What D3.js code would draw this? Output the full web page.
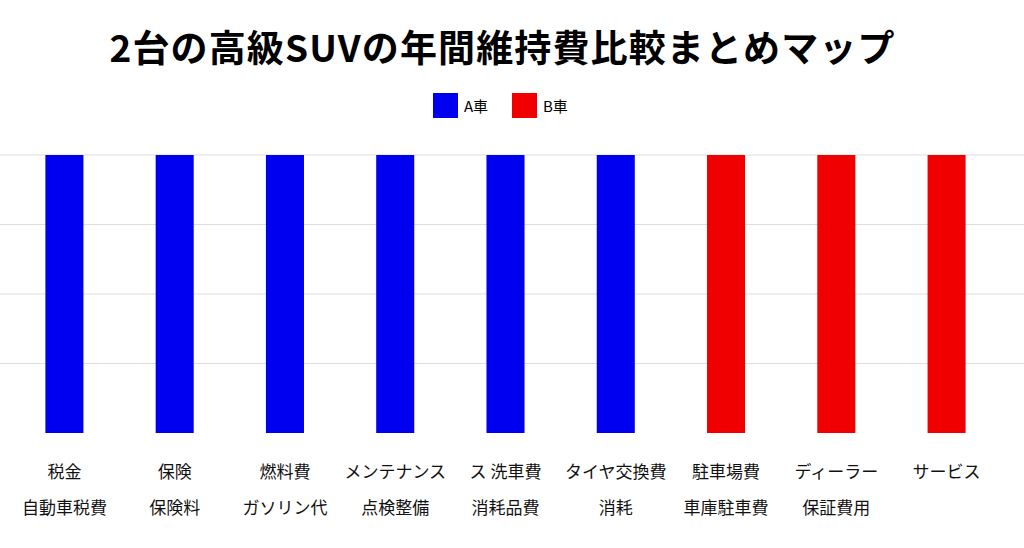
<!DOCTYPE html>
<html><head><meta charset="utf-8">
<script src="https://cdn.jsdelivr.net/npm/d3@7"></script>
<style>body{margin:0;background:#fff;font-family:"Noto Sans CJK JP","Noto Sans",sans-serif}</style>
</head><body><svg id="c" width="1024" height="548"></svg>
<script>
const categories = [["税金","自動車税費"],["保険","保険料"],["燃料費","ガソリン代"],["メンテナンス","点検整備"],["ス 洗車費","消耗品費"],["タイヤ交換費","消耗"],["駐車場費","車庫駐車費"],["ディーラー","保証費用"],["サービス",""]];
const seriesNames = ["A車","B車"];
const seriesA = [100,100,100,100,100,100,null,null,null];
const seriesB = [null,null,null,null,null,null,100,100,100];
const colors = ["#0000f0","#f00000"];
const yTicks = [0,25,50,75,100];

const svg = d3.select("#c");
const x = d3.scaleBand().domain(d3.range(categories.length)).range([9,1002]).paddingInner(0.655).paddingOuter(0.33);
const y = d3.scaleLinear().domain([0,100]).range([433,155]);

svg.append("text").attr("x",502).attr("y",62).attr("text-anchor","middle")
  .attr("font-size",37).attr("font-weight","bold").attr("textLength",785).text("2台の高級SUVの年間維持費比較まとめマップ");

svg.append("g").selectAll("line").data(yTicks.filter(d=>d>0)).join("line")
  .attr("x1",0).attr("x2",1024).attr("y1",d=>y(d)).attr("y2",d=>y(d)).attr("stroke","#ddd");

[seriesA,seriesB].forEach((s,i)=>{
  svg.append("g").selectAll("rect").data(s.map((v,j)=>({v,j})).filter(d=>d.v!=null)).join("rect")
    .attr("x",d=>x(d.j)).attr("width",x.bandwidth()).attr("y",d=>y(d.v)).attr("height",d=>y(0)-y(d.v)).attr("fill",colors[i]);
});

const lg = svg.append("g");
seriesNames.forEach((n,i)=>{
  const gx = 433 + i*79;
  lg.append("rect").attr("x",gx).attr("y",93).attr("width",25).attr("height",25).attr("fill",colors[i]);
  lg.append("text").attr("x",gx+31).attr("y",112).attr("font-size",15).text(n);
});

const lab = svg.append("g");
categories.forEach((c,j)=>{
  const cx = x(j)+x.bandwidth()/2;
  c.forEach((t,k)=>lab.append("text").attr("x",cx).attr("y",478+k*36).attr("text-anchor","middle").attr("font-size",17).attr("fill","#111").text(t));
});
</script></body></html>
